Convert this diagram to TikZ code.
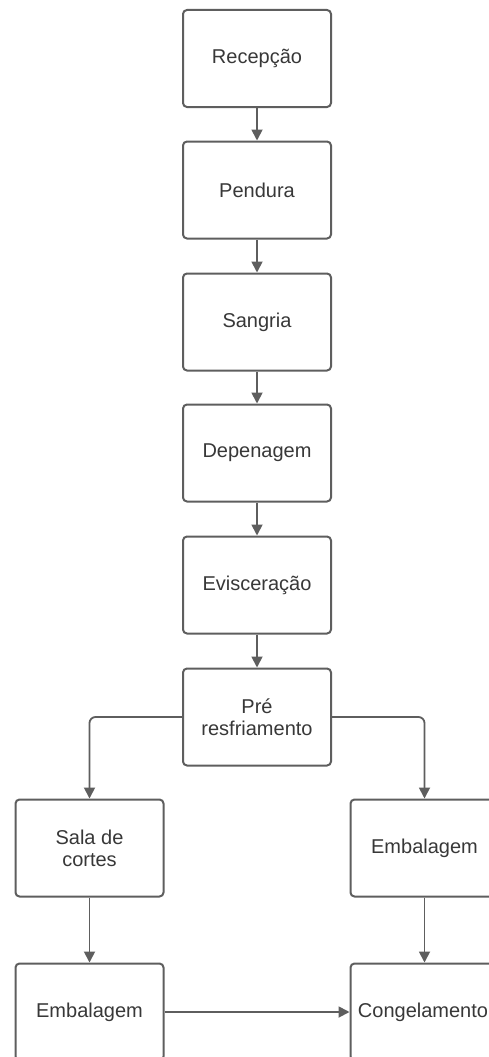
\documentclass[tikz,border=0pt]{standalone}
\usepackage{fontspec}
\setmainfont{Liberation Sans}
\usetikzlibrary{arrows.meta}
\definecolor{linegray}{HTML}{5E5E5E}
\definecolor{textgray}{HTML}{383838}
\begin{document}
\begin{tikzpicture}[x=1pt,y=-1pt,
  stepbox/.style={draw=linegray,line width=2pt,rounded corners=4pt,fill=white,
    minimum width=148pt,minimum height=97pt,inner sep=0pt,
    text=textgray,align=center,font=\fontsize{20}{22}\selectfont},
  conn/.style={draw=linegray,line width=1.8pt,-{Triangle[length=11pt,width=11pt]}}]
\useasboundingbox (0,0) rectangle (489,1057);
\clip (0,0) rectangle (489,1057);
\fill[white] (0,0) rectangle (489,1057);
\node[stepbox] (rec) at (257,58.5) {Recepção};
\node[stepbox] (pen) at (257,190) {Pendura};
\node[stepbox] (san) at (257,322) {Sangria};
\node[stepbox] (dep) at (257,453) {Depenagem};
\node[stepbox] (evi) at (257,585) {Evisceração};
\node[stepbox] (pre) at (257,717) {Pré\\resfriamento};
\node[stepbox] (sala) at (89.5,848) {Sala de\\cortes};
\node[stepbox] (embr) at (424.5,848) {Embalagem};
\node[stepbox] (embl) at (89.5,1012) {Embalagem};
\node[stepbox] (cong) at (424.5,1012) {\hspace*{-3pt}Congelamento};
\draw[conn] (rec) -- (pen);
\draw[conn] (pen) -- (san);
\draw[conn] (san) -- (dep);
\draw[conn] (dep) -- (evi);
\draw[conn] (evi) -- (pre);
\draw[conn,rounded corners=6pt] (pre.west) -| (sala.north);
\draw[conn,rounded corners=6pt] (pre.east) -| (embr.north);
\draw[conn] (sala) -- (embl);
\draw[conn] (embr) -- (cong);
\draw[conn] (embl) -- (cong);
\end{tikzpicture}
\end{document}
